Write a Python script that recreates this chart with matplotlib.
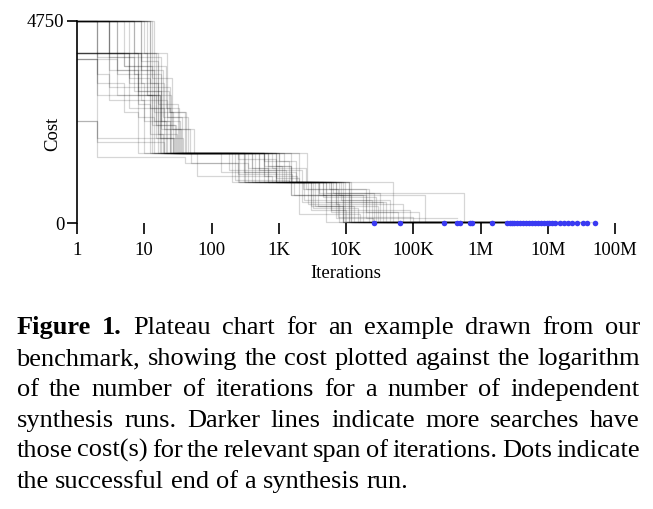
import matplotlib
matplotlib.use('Agg')
import matplotlib.pyplot as plt
from matplotlib.text import Text

plt.rcParams['font.family'] = ['Liberation Serif', 'DejaVu Serif']

# change points of each run: iteration where the cost changes, and the new cost
run_iters = [
    [1, 3, 8, 14, 400, 900, 3000, 9000],
    [1, 2, 6, 20, 200, 1500, 12000],
    [1, 4, 11, 25, 600, 1400, 5000, 40000],
    [1, 7, 18, 35, 300, 2500, 20000],
    [1, 2, 15, 28, 1000, 6000, 60000],
    [1, 3, 9, 22, 140, 1800, 4000, 560000],
    [1, 12, 24, 40, 500, 3500, 30000],
    [1, 5, 13, 30, 2000, 8000, 150000],
    [1, 2, 20, 60, 800, 7000, 25000],
    [1, 2, 40, 250, 1500, 9000],
    [1, 9, 16, 32, 900, 1500, 9000],
    [1, 6, 12, 19, 450, 2200, 35000],
    [1, 2, 5, 8, 250, 900, 2000, 6000, 90000],
    [1, 10, 22, 45, 600, 4500, 18000],
    [1, 4, 14, 24, 500, 1300, 11000],
    [1, 8, 17, 38, 250, 1600, 7000, 70000],
    [1, 3, 7, 18, 1500, 5500, 22000],
    [1, 2, 27, 50, 350, 2000, 16000],
    [1, 11, 21, 33, 800, 2500, 4500, 28000],
    [1, 5, 9, 16, 700, 3000, 10000],
    [1, 13, 26, 55, 220, 1400, 50000],
    [1, 4, 8, 12, 600, 1100, 3800, 13000],
    [1, 7, 15, 29, 2600, 8500, 24000],
    [1, 2, 3, 10, 300, 900, 1700, 5000],
    [1, 14, 23, 42, 180, 2200, 12000],
    [1, 6, 10, 21, 900, 4000, 20000, 120000],
    [1, 3, 16, 31, 400, 2700, 8000],
    [1, 9, 19, 36, 1000, 1800, 6500, 32000],
    [1, 5, 11, 17, 260, 3200, 15000],
    [1, 12, 20, 48, 600, 1900, 11000],
    [1, 2, 4, 13, 350, 700, 2400, 45000],
    [1, 8, 14, 27, 1200, 5000, 26000],
    [1, 6, 18, 34, 700, 1500, 9500],
    [1, 3, 12, 24, 320, 2300, 7500, 100000],
]
run_costs = [
    [4000, 3600, 2500, 1650, 1300, 960, 400, 20],
    [4750, 3900, 2700, 1650, 960, 650, 20],
    [4750, 4000, 3000, 1650, 1450, 960, 500, 20],
    [4750, 3500, 2200, 1650, 960, 800, 120],
    [3850, 3000, 2000, 1650, 960, 250, 20],
    [4750, 4000, 2900, 1650, 1200, 960, 700, 20],
    [4750, 3200, 2600, 1650, 960, 400, 20],
    [4000, 3700, 2300, 1650, 960, 650, 20],
    [2400, 1900, 1650, 1100, 960, 120, 20],
    [4750, 1550, 1400, 960, 650, 20],
    [4750, 3800, 2800, 1650, 1350, 960, 20],
    [4000, 3400, 2100, 1650, 960, 500, 20],
    [3850, 3300, 2600, 1650, 1500, 1050, 960, 300, 20],
    [4750, 4000, 2500, 1650, 960, 650, 20],
    [4750, 3600, 2400, 1650, 1250, 960, 20],
    [4000, 3000, 2000, 1650, 1150, 960, 450, 20],
    [4750, 3900, 3100, 1650, 960, 800, 20],
    [2400, 2000, 1650, 1400, 960, 200, 20],
    [4750, 3700, 2700, 1650, 1300, 960, 600, 20],
    [4750, 4000, 3300, 1650, 960, 300, 20],
    [4750, 3400, 2200, 1650, 1000, 960, 20],
    [4000, 3500, 2800, 1650, 1350, 960, 400, 20],
    [4750, 4000, 2300, 1650, 960, 550, 20],
    [3850, 3500, 2900, 1650, 1200, 960, 650, 20],
    [4750, 3100, 2600, 1650, 1250, 960, 20],
    [4000, 3300, 2400, 1650, 960, 650, 250, 20],
    [4750, 4000, 2100, 1650, 960, 450, 20],
    [4750, 3600, 2500, 1650, 1450, 960, 700, 20],
    [4000, 3700, 3000, 1650, 960, 350, 20],
    [4750, 3300, 2200, 1650, 1100, 960, 20],
    [4750, 3850, 3000, 1650, 1300, 960, 550, 20],
    [4000, 3100, 2600, 1650, 960, 700, 20],
    [4750, 3900, 2400, 1650, 1350, 960, 20],
    [4750, 3200, 2700, 1650, 960, 800, 150, 20],
]
# iteration at which each run succeeded (the blue dots)
run_ends = [2.6e4, 6.3e4, 2.85e5, 4.45e5, 4.9e5, 6.9e5, 7.6e5, 1.5e6,
            2.5e6, 2.7e6, 2.9e6, 3.2e6, 3.5e6, 3.9e6, 4.3e6, 4.8e6, 5.3e6,
            5.9e6, 6.5e6, 7.2e6, 8.0e6, 8.8e6, 9.6e6, 1.05e7, 1.15e7, 1.3e7,
            1.5e7, 1.75e7, 2.0e7, 2.3e7, 2.7e7, 3.3e7, 3.8e7, 5.0e7]

tick_vals = [1, 10, 100, 1e3, 1e4, 1e5, 1e6, 1e7, 1e8]
tick_labels = ['1', '10', '100', '1K', '10K', '100K', '1M', '10M', '100M']

caption_lines = [
    "Figure 1. Plateau chart for an example drawn from our",
    "benchmark, showing the cost plotted against the logarithm",
    "of the number of iterations for a number of independent",
    "synthesis runs. Darker lines indicate more searches have",
    "those cost(s) for the relevant span of iterations. Dots indicate",
    "the successful end of a synthesis run.",
]

W, H = 653, 509
fig = plt.figure(figsize=(W / 100, H / 100), dpi=100)
ax = fig.add_axes([77 / W, 1 - 223 / H, 538 / W, 202 / H])

for its, cs, end in zip(run_iters, run_costs, run_ends):
    ax.step(its + [end], cs + [cs[-1]], where='post', color='black',
            alpha=0.16, lw=0.9, clip_on=False)
ax.scatter(run_ends, [0] * len(run_ends), s=16, color='#3a3af2',
           zorder=5, clip_on=False, linewidths=0)

ax.set_xscale('log')
ax.set_xlim(1, 1e8)
ax.set_ylim(0, 4750)
ax.set_xticks(tick_vals)
ax.set_xticklabels(tick_labels)
ax.minorticks_off()
ax.set_yticks([0, 4750])
ax.set_yticklabels(['0', '4750'])
for s in ['top', 'right', 'bottom']:
    ax.spines[s].set_visible(False)
ax.spines['left'].set_linewidth(1.2)
ax.tick_params(axis='x', length=8, width=1.2, pad=6, labelsize=13.5)
ax.tick_params(axis='y', length=7, width=1.2, pad=2, labelsize=13.5)
ax.set_xlabel('Iterations', fontsize=13.5, labelpad=4)
ax.set_ylabel('Cost', fontsize=13.5)
ax.yaxis.set_label_coords(-0.03, 0.44)

# caption, justified by hand
renderer = fig.canvas.get_renderer()
fs = 19
left, right = 16.5, 640.0
baselines = [334, 365, 396, 427, 457, 488]


def word_width(w, bold):
    t = Text(0, 0, w, fontsize=fs, fontweight='bold' if bold else 'normal',
             fontfamily=plt.rcParams['font.family'])
    t.set_figure(fig)
    return t.get_window_extent(renderer).width


space = word_width('a a', False) - word_width('aa', False)
for i, line in enumerate(caption_lines):
    words = line.split(' ')
    bolds = [i == 0 and k < 2 for k in range(len(words))]
    widths = [word_width(w, b) for w, b in zip(words, bolds)]
    if i < len(caption_lines) - 1:
        gap = (right - left - sum(widths)) / (len(words) - 1)
    else:
        gap = space
    x = left
    for w, b, wd in zip(words, bolds, widths):
        fig.text(x / W, 1 - baselines[i] / H, w, fontsize=fs,
                 fontweight='bold' if b else 'normal', va='baseline', ha='left')
        x += wd + gap

fig.savefig('out.png', dpi=100)
